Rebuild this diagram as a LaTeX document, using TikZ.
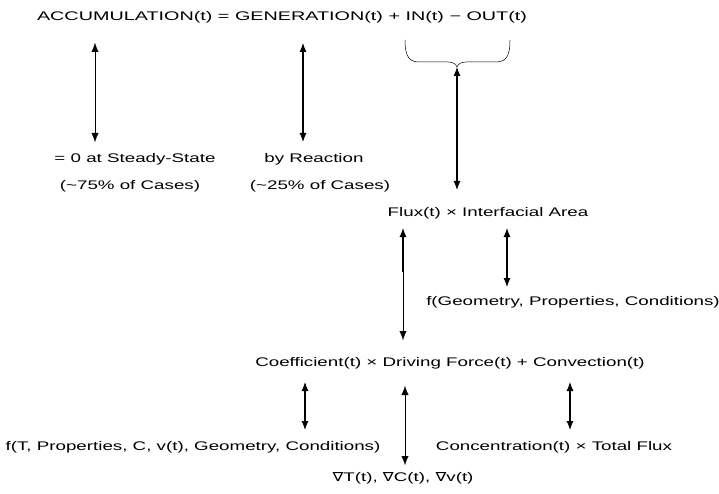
\documentclass[tikz,border=0pt]{standalone}
\usepackage{fontspec}
\setmainfont{Liberation Sans}[FakeStretch=1.5]
\newfontfamily\symf{DejaVu Sans}[FakeStretch=1.3]
\usetikzlibrary{arrows.meta}
\begin{document}
\begin{tikzpicture}[x=1pt,y=-1pt,
  lbl/.style={inner sep=0pt,font=\fontsize{12.5}{14}\selectfont},
  dbl/.style={{Latex[length=9pt,width=7pt]}-{Latex[length=9pt,width=7pt]},line width=1.1pt},
  fadedbl/.style={{Latex[length=9pt,width=7pt]}-{Latex[length=9pt,width=7pt]},line width=0.2pt},
  one/.style={-{Latex[length=9pt,width=7pt]},line width=1.1pt},
  fadeone/.style={-{Latex[length=9pt,width=7pt]},line width=0.2pt},
  bracestyle/.style={line width=0.5pt}]
\useasboundingbox (0,0) rectangle (719,494);
% nodes
\node[lbl] (eq) at (282,17) {\scalebox{1.055}[1]{ACCUMULATION(t) = GENERATION(t) + IN(t) − OUT(t)}};
\node[lbl] (ss) at (135,159) {= 0 at Steady-State};
\node[lbl] (ss2) at (130,186) {(\textasciitilde 75\% of Cases)};
\node[lbl] (rx) at (314,159) {by Reaction};
\node[lbl] (rx2) at (320,186) {(\textasciitilde 25\% of Cases)};
\node[lbl] (flux) at (488,213) {Flux(t) × Interfacial Area};
\node[lbl] (fg) at (573,302) {f(Geometry, Properties, Conditions)};
\node[lbl] (coef) at (450,363) {Coefficient(t) × Driving Force(t) + Convection(t)};
\node[lbl] (fp) at (193,447) {f(T, Properties, C, v(t), Geometry, Conditions)};
\node[lbl] (conc) at (554,447) {Concentration(t) × Total Flux};
\node[lbl] (grad) at (403,478) {{\symf ∇}T(t), {\symf ∇}C(t), {\symf ∇}v(t)};
% coordinates
\coordinate (a1) at (95,43);
\coordinate (a2) at (95,142);
\coordinate (b1) at (303,43);
\coordinate (b2) at (303,142);
\coordinate (bt) at (457,67);
\coordinate (bt2) at (457,190);
\coordinate (f1) at (403,228);
\coordinate (f2) at (403,272);
\coordinate (g1) at (507,228);
\coordinate (g2) at (507,287);
\coordinate (c0) at (403,340);
\coordinate (l1) at (305,382);
\coordinate (l2) at (305,430);
\coordinate (m1) at (405,386);
\coordinate (m2) at (405,465);
\coordinate (r1) at (570,382);
\coordinate (r2) at (570,430);
% arrows
\draw[fadedbl] (a1) -- (a2);
\draw[dbl] (b1) -- (b2);
\draw[bracestyle] (405,40) .. controls (405,58) and (410,62) .. (420,62) -- (448,62) .. controls (453,62) and (456,64) .. (bt)
  .. controls (458,64) and (461,62) .. (466,62) -- (495,62) .. controls (505,62) and (510,58) .. (510,40);
\draw[dbl] (bt) -- (bt2);
\draw[one] (f2) -- (f1);
\draw[fadeone] (f2) -- (c0);
\draw[dbl] (g1) -- (g2);
\draw[dbl] (l1) -- (l2);
\draw[fadedbl] (m1) -- (m2);
\draw[dbl] (r1) -- (r2);
\end{tikzpicture}
\end{document}
